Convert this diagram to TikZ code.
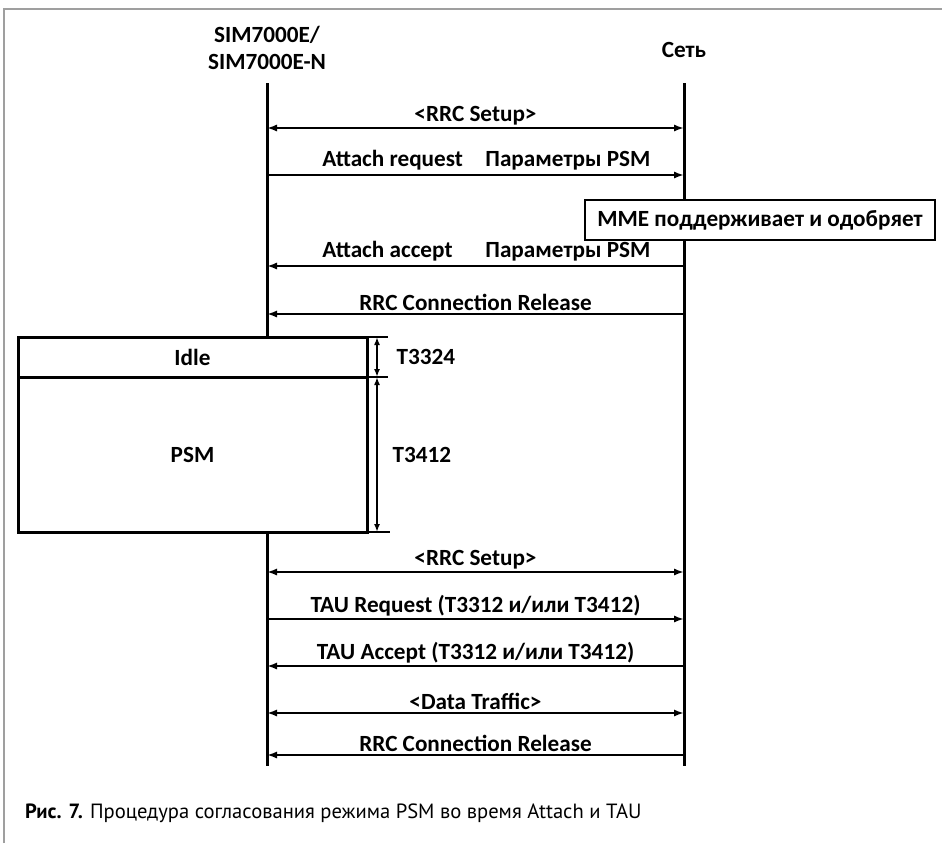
\documentclass[tikz,border=0pt]{standalone}
\usepackage{fontspec}
\setmainfont{Carlito}
\newfontfamily\capfont{PT Sans}
\usetikzlibrary{arrows.meta}

\begin{document}
\begin{tikzpicture}[x=0.5pt,y=-0.5pt,font=\bfseries\fontsize{11.6}{13.5}\selectfont,
  >={Latex[length=5pt,width=3.6pt]},
  msg/.style={line width=1.3pt},
  lbl/.style={midway,above,inner sep=1pt},
  box/.style={draw,line width=1.5pt,inner sep=0pt,outer sep=0pt,fill=white},
  dim/.style={<->,line width=1pt,>={Latex[length=4pt,width=3pt]}}]

\useasboundingbox (0,0) rectangle (942,843);
%cornice
\draw[gray!75,line width=1pt] (4,843) -- (4,9) -- (942,9);

%partecipanti
\node[align=center] (sim) at (267,48) {SIM7000E/\\SIM7000E-N};
\node (net) at (684,50) {Сеть};

\foreach \i/\y in {1/128,2/175,3/266,4/314,5/572,6/619,7/666,8/713,9/755}{
  \coordinate (s\i) at (267,\y);
  \coordinate (n\i) at (684,\y);}
\coordinate (s0) at (267,83);
\coordinate (n0) at (684,83);
\coordinate (s10) at (267,766);
\coordinate (n10) at (684,766);

%linee di vita
\draw[line width=1.5pt] (s0) -- (s10);
\draw[line width=1.5pt] (n0) -- (n10);

%stati
\node[box,minimum width=174.5pt,minimum height=20pt] (idle) at (192.5,357) {Idle};
\node[box,minimum width=174.5pt,minimum height=77.5pt,anchor=north] (psm) at (idle.south) {PSM};

%attach
\draw[msg,<->] (s1) -- (n1) node[lbl] {<RRC Setup>};
\draw[msg,->] (s2) -- (n2);
\node[anchor=south west,inner sep=1pt] (areq) at (320,173) {Attach request};
\node[anchor=south west,inner sep=1pt] (preq) at (483,173) {Параметры PSM};
\node[box,line width=1.3pt,minimum width=175pt,minimum height=20pt] (mme) at (760,220) {MME поддерживает и одобряет};
\draw[msg,<-] (s3) -- (n3);
\node[anchor=south west,inner sep=1pt] (aacc) at (320,264) {Attach accept};
\node[anchor=south west,inner sep=1pt] (pacc) at (483,264) {Параметры PSM};
\draw[msg,<-] (s4) -- (n4) node[lbl] {RRC Connection Release};

%timer
\draw[line width=1pt] (idle.north east) -- ++(21,0);
\draw[line width=1pt] (idle.south east) -- ++(21,0);
\draw[line width=1pt] (psm.south east) -- ++(23,0);
\draw[dim] ([xshift=5pt]idle.north east) -- ([xshift=5pt]idle.south east) node[midway,right=6pt] {T3324};
\draw[dim] ([xshift=5pt]psm.north east) -- ([xshift=5pt]psm.south east) node[midway,right=4pt] {T3412};

%TAU
\draw[msg,<->] (s5) -- (n5) node[lbl] {<RRC Setup>};
\draw[msg,->] (s6) -- (n6) node[lbl] {TAU Request (T3312 и/или T3412)};
\draw[msg,<-] (s7) -- (n7) node[lbl] {TAU Accept (T3312 и/или T3412)};
\draw[msg,<->] (s8) -- (n8) node[lbl] {<Data Traffic>};
\draw[msg,<-] (s9) -- (n9) node[lbl] {RRC Connection Release};

%didascalia
\node[anchor=west,font=\capfont\fontsize{10.3}{12}\selectfont] (cap) at (18,813)
  {\textbf{Рис. 7.} Процедура согласования режима PSM во время Attach и TAU};
\end{tikzpicture}
\end{document}
